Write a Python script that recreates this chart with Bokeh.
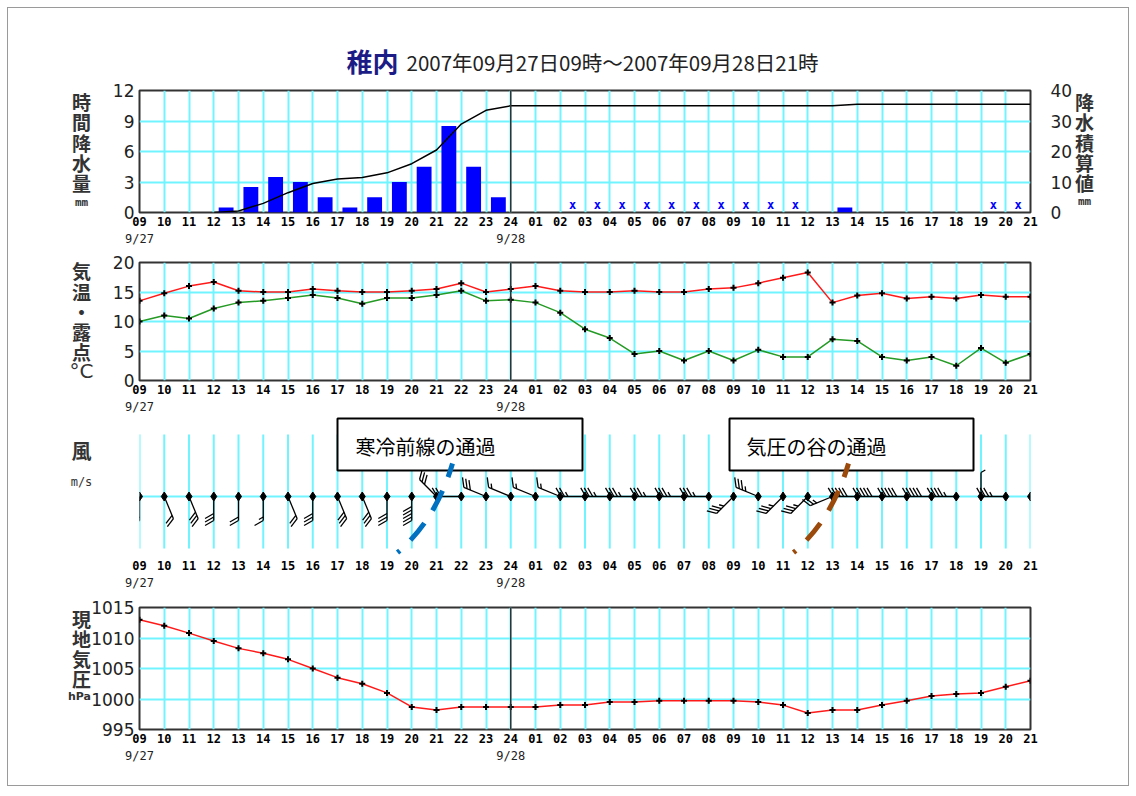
import numpy as np
from bokeh.plotting import figure
from bokeh.models import Range1d, LinearAxis, FixedTicker, Grid, Span, Label
from bokeh.layouts import column
from bokeh.embed import file_html
from bokeh.resources import INLINE
from bokeh.core.properties import value

# ---------------- data ----------------
station = "稚内"
period = "2007年09月27日09時～2007年09月28日21時"

hour_labels = ["09", "10", "11", "12", "13", "14", "15", "16", "17", "18", "19", "20",
               "21", "22", "23", "24", "01", "02", "03", "04", "05", "06", "07", "08",
               "09", "10", "11", "12", "13", "14", "15", "16", "17", "18", "19", "20", "21"]
date_ticks = [0, 15]
date_labels = ["9/27", "9/28"]

# hourly precipitation (mm), hour ending 10 (9/27) ... 21 (9/28)
precip_mm = [0, 0, 0, 0.5, 2.5, 3.5, 3.0, 1.5, 0.5, 1.5, 3.0, 4.5, 8.5, 4.5, 1.5,
             0, 0, 0, 0, 0, 0, 0, 0, 0, 0, 0, 0, 0, 0.5, 0, 0, 0, 0, 0, 0, 0]
# "x" marks in the precipitation panel (same hours)
precip_x_flag = [0, 0, 0, 0, 0, 0, 0, 0, 0, 0, 0, 0, 0, 0, 0,
                 0, 0, 1, 1, 1, 1, 1, 1, 1, 1, 1, 1, 0, 0, 0, 0, 0, 0, 0, 1, 1]

temp_c = [13.5, 14.8, 16.0, 16.7, 15.2, 15.0, 15.0, 15.5, 15.2, 15.0, 15.0, 15.2, 15.5, 16.5, 15.0, 15.5,
          16.0, 15.2, 15.0, 15.0, 15.2, 15.0, 15.0, 15.5, 15.7, 16.5, 17.4, 18.3, 13.2, 14.4, 14.8,
          13.9, 14.2, 13.9, 14.5, 14.2, 14.2]
dew_c = [10.0, 11.0, 10.5, 12.2, 13.2, 13.5, 14.0, 14.5, 14.0, 13.0, 14.0, 14.0, 14.5, 15.2, 13.5, 13.7,
         13.2, 11.5, 8.7, 7.2, 4.5, 5.0, 3.4, 5.0, 3.4, 5.2, 4.0, 4.0, 7.0, 6.7, 4.0,
         3.4, 4.0, 2.5, 5.5, 3.0, 4.5]

wind_dir_deg = [180, 157.5, 157.5, 180, 180, 180, 157.5, 180, 157.5, 157.5, 180, 180, 315, 270, 292.5, 292.5,
                292.5, 292.5, 270, 270, 270, 270, 270, 270, 225, 292.5, 225, 225, 247.5, 270, 270,
                270, 270, 270, 0, 270, 0]
wind_speed_ms = [4, 4, 6, 6, 4, 3, 4, 6, 6, 6, 6, 10, 6, 4, 6, 3,
                 3, 3, 5, 7, 7, 7, 7, 7, 7, 7, 7, 7, 5, 10, 10,
                 10, 10, 9, 1, 7, 0]

pressure_hpa = [1013.0, 1012.0, 1010.8, 1009.5, 1008.3, 1007.5, 1006.5, 1005.0, 1003.5, 1002.5, 1001.0,
                998.7, 998.2, 998.7, 998.7, 998.7,
                998.7, 999.0, 999.0, 999.5, 999.5, 999.7, 999.7, 999.7, 999.7, 999.5, 999.0,
                997.7, 998.2, 998.2, 999.0, 999.7, 1000.5, 1000.8, 1001.0, 1002.0, 1003.0]

notes = ["寒冷前線の通過", "気圧の谷の通過"]

# ---------------- layout / style ----------------
CYAN = "#70F4FF"
FRAME = "#333333"
JP = "Noto Sans CJK JP"
MONO = "DejaVu Sans Mono"
SANS = "DejaVu Sans"
JP_LH = 0.75  # ~20px line spacing for 19px Noto Sans CJK

W = 1120
FL, FR = 131, 98
NH = len(hour_labels) - 1
FX0 = 139.0
PXH = (W - FL - FR) / NH


def xh(px):
    return (px - FX0) / PXH


def yA(py):
    return (212 - py) * 12 / 122


def yB(py):
    return (384 - py) * 20 / 122


def yC(py):
    return 496 - py


def yD(py):
    return 995 + (729 - py) * 20 / 122


def style_axis(ax, font, size, bold=False, color="#000000", standoff=4):
    ax.axis_line_color = None
    ax.major_tick_line_color = None
    ax.minor_tick_line_color = None
    ax.major_tick_out = 0
    ax.major_tick_in = 0
    ax.minor_tick_out = 0
    ax.minor_tick_in = 0
    ax.major_label_text_font = font
    ax.major_label_text_font_size = size
    ax.major_label_text_font_style = "bold" if bold else "normal"
    ax.major_label_text_color = color
    ax.major_label_standoff = standoff


def panel(height, top, bottom, y0, y1, yticks=None, outline=True):
    p = figure(width=W, height=height, x_range=Range1d(0, NH), y_range=Range1d(y0, y1),
               x_axis_type=None, y_axis_type=None, output_backend="svg", toolbar_location=None,
               min_border_left=FL, min_border_right=FR, min_border_top=top, min_border_bottom=bottom)
    p.background_fill_color = "white"
    p.border_fill_color = "white"
    if outline:
        p.outline_line_color = FRAME
        p.outline_line_width = 2
    else:
        p.outline_line_color = None
    ax = LinearAxis(ticker=FixedTicker(ticks=list(range(NH + 1))),
                    major_label_overrides={i: s for i, s in enumerate(hour_labels)})
    style_axis(ax, MONO, "12px", bold=True, standoff=4)
    p.add_layout(ax, "below")
    dax = LinearAxis(ticker=FixedTicker(ticks=date_ticks),
                     major_label_overrides=dict(zip(date_ticks, date_labels)))
    style_axis(dax, MONO, "12px", bold=False, color="#222222", standoff=3)
    p.add_layout(dax, "below")
    if yticks is not None:
        yax = LinearAxis(ticker=FixedTicker(ticks=yticks))
        style_axis(yax, SANS, "17px", color="#222222", standoff=5)
        p.add_layout(yax, "left")
        p.add_layout(Grid(dimension=1, ticker=FixedTicker(ticks=yticks[1:-1]),
                          grid_line_color=CYAN, grid_line_width=2))
        p.add_layout(Grid(dimension=0, ticker=FixedTicker(ticks=list(range(1, NH))),
                          grid_line_color=CYAN, grid_line_width=2))
    return p


def side_label(p, side, x, py, yfun, text, font=JP, size="19px", bold=True, color="#333333",
               align="center", lh=JP_LH):
    p.add_layout(Label(x=xh(x), y=yfun(py), text=text, text_align=align, text_baseline="middle",
                       text_font=font, text_font_size=size,
                       text_font_style="bold" if bold else "normal",
                       text_color=color, text_line_height=lh), side)


hours = np.arange(NH + 1)

# ---------- panel A: precipitation ----------
pA = panel(242, 82, 38, 0, 12, yticks=[0, 3, 6, 9, 12])
pA.extra_y_ranges = {"cum": Range1d(0, 40)}
rax = LinearAxis(y_range_name="cum", ticker=FixedTicker(ticks=[0, 10, 20, 30, 40]))
style_axis(rax, SANS, "17px", color="#222222", standoff=20)
pA.add_layout(rax, "right")

pr = np.array(precip_mm)
pA.vbar(x=hours[:-1] + 0.5, top=pr, width=0.6, bottom=0, fill_color="#0000FF", line_color=None)
fl = np.array(precip_x_flag) == 1
pA.text(x=(hours[:-1] + 0.5)[fl], y=np.full(fl.sum(), 0.75), text=["x"] * int(fl.sum()),
        text_font=value(MONO), text_font_size="12px", text_font_style="bold", text_color="#0000FF",
        text_align="center", text_baseline="middle")
cum = np.concatenate([[0.0], np.cumsum(pr)])
k0 = int(np.argmax(pr > 0))
pA.line(x=hours[k0:], y=cum[k0:], y_range_name="cum", line_color="black", line_width=1.5)
pA.add_layout(Span(location=15, dimension="height", line_color=FRAME, line_width=1.5))

side_label(pA, "above", 398, 60, yA, station, size="26px", color="#1C1C86", align="right", lh=1.0)
side_label(pA, "above", 406, 61, yA, period, size="20.5px", bold=False, color="#222222",
           align="left", lh=1.0)
side_label(pA, "left", 81, 141.5, yA, "\n".join("時間降水量"))
side_label(pA, "left", 81, 202, yA, "mm", font=MONO, size="11px", bold=True, lh=1.0)
side_label(pA, "right", 1084, 141.5, yA, "\n".join("降水積算値"))
side_label(pA, "right", 1084, 201, yA, "mm", font=MONO, size="11px", bold=True, lh=1.0)

# ---------- panel B: temperature / dew point ----------
pB = panel(166, 12, 32, 0, 20, yticks=[0, 5, 10, 15, 20])
pB.line(hours, temp_c, line_color="#FF1A1A", line_width=1.5)
pB.line(hours, dew_c, line_color="#259A25", line_width=1.5)
pB.scatter(hours, temp_c, marker="cross", size=6, line_width=2, color="black")
pB.scatter(hours, dew_c, marker="cross", size=6, line_width=2, color="black")
pB.add_layout(Span(location=15, dimension="height", line_color=FRAME, line_width=1.5))
side_label(pB, "left", 81, 312.5, yB, "\n".join("気温・露点"))
side_label(pB, "left", 81, 374, yB, "°C", font=SANS, size="20px", bold=False, lh=1.0)

# ---------- panel C: wind ----------
pC = panel(179, 0, 39, -60, 80, yticks=None, outline=False)
pC.segment(x0=hours, y0=np.full(NH + 1, -52), x1=hours, y1=np.full(NH + 1, 62),
           line_color=CYAN, line_width=2)
pC.segment(x0=[0], y0=[0], x1=[NH], y1=[0], line_color=CYAN, line_width=2)

SHAFT, FEATHER, STEP = 24.0, 10.0, 3.5
rot = np.radians(-60)
bx0, by0, bx1, by1 = [], [], [], []
for i, (d, s) in enumerate(zip(wind_dir_deg, wind_speed_ms)):
    if s <= 0:
        continue
    th = np.radians(d)
    ux, uy = np.sin(th), np.cos(th)
    ex, ey = ux * SHAFT, uy * SHAFT
    bx0.append(i); by0.append(0); bx1.append(i + ex / PXH); by1.append(ey)
    fx = ux * np.cos(rot) - uy * np.sin(rot)
    fy = ux * np.sin(rot) + uy * np.cos(rot)
    nfull, half = divmod(int(s), 2)
    for k in range(nfull + half):
        ln = FEATHER if k < nfull else FEATHER / 2
        ax_, ay_ = ex - ux * STEP * k, ey - uy * STEP * k
        bx0.append(i + ax_ / PXH); by0.append(ay_)
        bx1.append(i + (ax_ + fx * ln) / PXH); by1.append(ay_ + fy * ln)
pC.segment(x0=bx0, y0=by0, x1=bx1, y1=by1, line_color="black", line_width=1.3)
pC.scatter(hours, np.zeros(NH + 1), marker="diamond", size=9, color="black")

box_px = [(337, 582), (729, 973)]
pC.quad(left=[xh(a) for a, b in box_px], right=[xh(b) for a, b in box_px],
        top=[yC(418)] * 2, bottom=[yC(470)] * 2, fill_color="white", line_color="black", line_width=2)
pC.text(x=[xh(355), xh(746)], y=[yC(446)] * 2, text=notes, text_font=value(JP), text_font_size="20px",
        text_align="left", text_baseline="middle", text_color="black")
curve_px = [((397, 552), (435, 520), (452, 463), "#0070C0"),
            ((793, 552), (831, 520), (848, 463), "#9C4A0C")]
for (p0, c, p1, col) in curve_px:
    pC.quadratic(x0=[xh(p0[0])], y0=[yC(p0[1])], x1=[xh(p1[0])], y1=[yC(p1[1])],
                 cx=[xh(c[0])], cy=[yC(c[1])], line_color=col, line_width=5,
                 line_dash="22 15", line_dash_offset=19)
side_label(pC, "left", 81, 450, yC, "風", size="20px", lh=1.0)
side_label(pC, "left", 81, 481, yC, "m/s", font=MONO, size="12px", bold=False, lh=1.0)

# ---------- panel D: pressure ----------
pD = panel(190, 12, 56, 995, 1015, yticks=[995, 1000, 1005, 1010, 1015])
pD.line(hours, pressure_hpa, line_color="#FF1A1A", line_width=1.5)
pD.scatter(hours, pressure_hpa, marker="cross", size=6, line_width=2, color="black")
pD.add_layout(Span(location=15, dimension="height", line_color=FRAME, line_width=1.5))
side_label(pD, "left", 81, 648, yD, "\n".join("現地気圧"))
side_label(pD, "left", 79, 696, yD, "hPa", font=SANS, size="11px", bold=True, lh=1.0)

layout = column(pA, pB, pC, pD, styles={"border": "1px solid #9a9a9a", "margin": "7px"})
open("out.html", "w").write(file_html(layout, INLINE))
